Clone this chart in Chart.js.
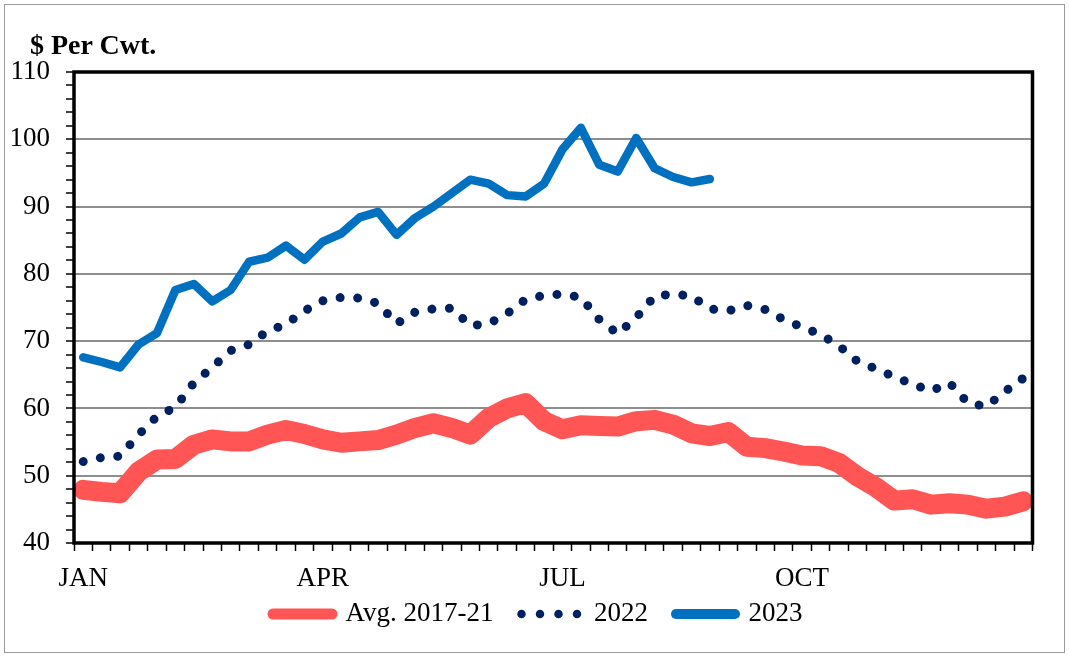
<!DOCTYPE html>
<html><head><meta charset="utf-8">
<script src="https://cdn.jsdelivr.net/npm/chart.js@4/dist/chart.umd.min.js"></script>
<style>
html,body{margin:0;padding:0;background:#fff;}
#wrap{position:relative;width:1070px;height:656px;overflow:hidden;background:#fff;}
#frame{position:absolute;left:4px;top:4px;width:1061px;height:649px;border:1.5px solid #9a9a9a;box-sizing:border-box;}
#c{position:absolute;left:0;top:0;}
#ttl{position:absolute;left:30px;top:31px;font:bold 28px/28px 'Liberation Serif',serif;white-space:nowrap;color:#000;}
</style></head><body>
<div id="wrap"><div id="frame"></div><canvas id="c" width="1070" height="656"></canvas><div id="ttl">$ Per Cwt.</div></div>
<script>
// Week categories (52 weeks)
const weeks = [1,2,3,4,5,6,7,8,9,10,11,12,13,14,15,16,17,18,19,20,21,22,23,24,25,26,
               27,28,29,30,31,32,33,34,35,36,37,38,39,40,41,42,43,44,45,46,47,48,49,50,51,52];
// Month tick labels and the weeks they sit on
const monthTicks = ['JAN','APR','JUL','OCT'];
const monthTickWeeks = [1,14,27,40];
// Series
const seriesLabels = ['Avg. 2017-21','2022','2023'];
const avg2017_21 = [47.9,47.6,47.4,50.6,52.4,52.5,54.6,55.4,55.1,55.1,56.1,56.8,56.2,55.4,54.9,55.1,55.3,56.1,57.1,57.8,
                    57.1,56.1,58.6,60.0,60.8,58.1,56.9,57.5,57.4,57.3,58.1,58.3,57.6,56.3,55.9,56.5,54.3,54.1,53.6,53.0,
                    52.9,51.9,49.9,48.3,46.3,46.5,45.7,45.9,45.7,45.1,45.4,46.2];
const y2022 = [52.1,52.7,52.9,56.1,58.8,60.2,63.8,66.1,68.6,69.5,71.5,72.5,74.5,76.0,76.5,76.4,75.6,72.6,74.3,74.8,
               74.9,72.3,72.6,74.1,76.2,76.8,77.0,76.5,73.2,71.1,73.5,76.7,77.0,76.7,74.8,74.5,75.3,74.7,73.2,72.1,
               71.0,69.3,67.0,65.9,64.7,63.6,62.6,63.8,60.8,60.3,62.5,64.5];
const y2023 = [67.6,66.9,66.1,69.5,71.2,77.6,78.5,75.9,77.6,81.8,82.4,84.2,82.1,84.8,86.0,88.4,89.2,85.8,88.3,90.0,
               92.0,94.0,93.4,91.7,91.5,93.4,98.5,101.7,96.2,95.2,100.2,95.7,94.4,93.6,94.1];
// Y axis range / ticks
const yMin = 40, yMax = 110, yMinorStep = 2, yLabelStep = 10;

const FONT = "'Liberation Serif', 'Times New Roman', serif";
const DOT_DASH = [0.001, 17.5];
const legendStyles = [
  {lineWidth: 11, lineDash: [], lineCap: 'round'},
  {lineWidth: 8.5, lineDash: [0.001, 18.5], lineCap: 'round'},
  {lineWidth: 10, lineDash: [], lineCap: 'round'}
];

const plotFrame = {
  id: 'plotFrame',
  afterLayout(chart) {
    // widen the label clip boxes so tick labels are not cut off
    const s = chart.scales;
    if (s.y) s.y.left = 0;
    if (s.x) s.x.bottom = chart.height;
  },
  afterDatasetsDraw(chart) {
    const {ctx, chartArea: a} = chart;
    ctx.save();
    ctx.strokeStyle = '#000';
    ctx.lineWidth = 3.5;
    ctx.strokeRect(a.left, a.top, a.right - a.left, a.bottom - a.top);
    ctx.restore();
  }
};

new Chart(document.getElementById('c'), {
  type: 'line',
  data: {
    labels: weeks,
    datasets: [
      {label: seriesLabels[0], data: avg2017_21, borderColor: '#FF5555', backgroundColor: '#FF5555',
       borderWidth: 20, borderCapStyle: 'round', borderJoinStyle: 'round', pointRadius: 0, tension: 0},
      {label: seriesLabels[1], data: y2022, borderColor: '#002060', backgroundColor: '#002060',
       borderWidth: 9, borderDash: DOT_DASH, borderCapStyle: 'round', pointRadius: 0, tension: 0},
      {label: seriesLabels[2], data: y2023, borderColor: '#0070C0', backgroundColor: '#0070C0',
       borderWidth: 8.5, borderCapStyle: 'round', borderJoinStyle: 'round', pointRadius: 0, tension: 0}
    ]
  },
  options: {
    responsive: false,
    animation: false,
    maintainAspectRatio: false,
    layout: {padding: {left: 43, right: 37.5, top: 72, bottom: 18.5}},
    plugins: {
      title: {display: false},
      tooltip: {enabled: false},
      legend: {
        position: 'bottom',
        labels: {
          color: '#000',
          font: {family: FONT, size: 27},
          usePointStyle: true,
          pointStyle: 'line',
          pointStyleWidth: 59,
          boxHeight: 27,
          padding: 28,
          generateLabels(chart) {
            const items = Chart.defaults.plugins.legend.labels.generateLabels(chart);
            items.forEach((it, i) => {
              Object.assign(it, legendStyles[i]);
              it.pointStyle = 'line';
            });
            return items;
          }
        }
      }
    },
    scales: {
      x: {
        type: 'category',
        offset: true,
        afterFit(s) { s.height = 29.5; },
        border: {display: false},
        grid: {offset: true, drawOnChartArea: false, drawTicks: true, tickLength: 8, tickColor: '#000', tickWidth: 1.5},
        ticks: {
          autoSkip: false, maxRotation: 0, minRotation: 0, padding: 12, color: '#000',
          font: {family: FONT, size: 27},
          callback(v, i) { const k = monthTickWeeks.indexOf(weeks[i]); return k >= 0 ? monthTicks[k] : ''; }
        }
      },
      y: {
        min: yMin, max: yMax,
        afterFit(s) { s.width = 31; },
        border: {display: false},
        grid: {
          color(c) { const v = c.tick ? c.tick.value : null; return (v !== null && v % yLabelStep === 0 && v > yMin && v < yMax) ? '#8e8e8e' : 'rgba(0,0,0,0)'; },
          lineWidth: 2, drawTicks: true, tickLength: 8, tickColor: '#000', tickWidth: 1.5
        },
        ticks: {
          stepSize: yMinorStep, autoSkip: false, padding: 16, color: '#000',
          font: {family: FONT, size: 27},
          callback(v) { return v % yLabelStep === 0 ? String(v) : ''; }
        }
      }
    }
  },
  plugins: [plotFrame]
});
</script>
</body></html>
